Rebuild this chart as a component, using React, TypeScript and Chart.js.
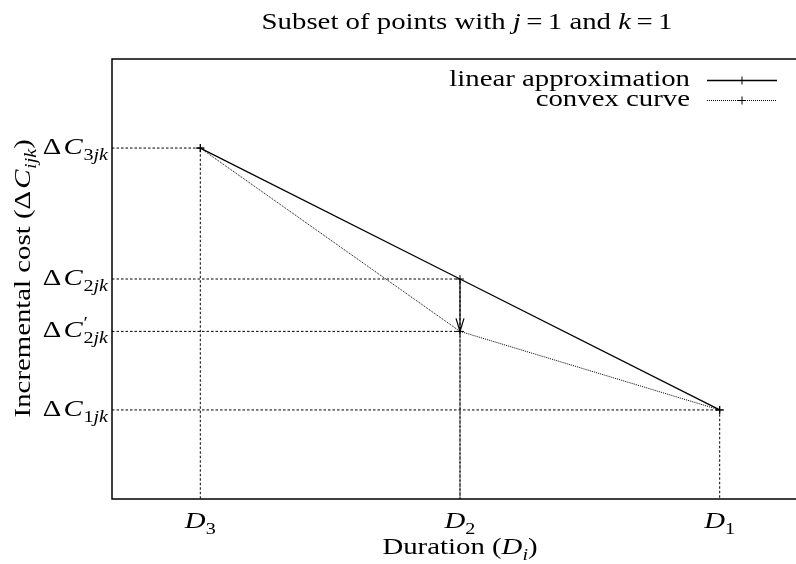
import React, { useEffect, useRef } from "react";
import { Chart, registerables } from "chart.js";

Chart.register(...registerables);

// Durations on the x axis (D3 left, D1 right) and their tick labels
const durations = [1, 2, 3];
const durationLabels = ["3", "2", "1"]; // subscripts of D for values 1, 2, 3

// Incremental costs
const cost3 = 3;
const cost2 = 2;
const cost2Prime = 1.6;
const cost1 = 1;

// Series values (same order as durations)
const linearCosts = [cost3, cost2, cost1];
const convexCosts = [cost3, cost2Prime, cost1];

// Y tick labels: value, subscript, primed
const costTicks: { v: number; sub: string; prime: boolean }[] = [
  { v: cost3, sub: "3jk", prime: false },
  { v: cost2, sub: "2jk", prime: false },
  { v: cost2Prime, sub: "2jk", prime: true },
  { v: cost1, sub: "1jk", prime: false },
];

const X_MIN = 0.66;
const X_MAX = 3.34;
const Y_MIN = 0.32;
const Y_MAX = 3.68;

const FONT = '"Liberation Serif", "DejaVu Serif", serif';
const SIZE = 24;
const SX = 1.2; // horizontal widening of the serif glyphs

type Seg = { t: string; it?: boolean; sub?: boolean; sup?: boolean; hold?: boolean; pad?: number };

function segFont(s: Seg, size: number) {
  const sz = Math.round((s.sub || s.sup ? size * 0.7 : size) * 10) / 10;
  return `${s.it ? "italic " : ""}${sz}px ${FONT}`;
}

function layoutRich(ctx: CanvasRenderingContext2D, segs: Seg[], size: number) {
  let x = 0;
  let held = 0;
  const out: { s: Seg; x: number }[] = [];
  for (const s of segs) {
    ctx.font = segFont(s, size);
    const w = ctx.measureText(s.t).width * SX + (s.pad || 0) * size;
    out.push({ s, x: x + ((s.pad || 0) * size) / 2 });
    if (s.hold) {
      held = w;
    } else {
      x += Math.max(w, held);
      held = 0;
    }
  }
  return { items: out, width: x };
}

function drawRich(
  ctx: CanvasRenderingContext2D,
  segs: Seg[],
  x: number,
  baseline: number,
  size: number,
  align: "left" | "center" | "right"
) {
  const { items, width } = layoutRich(ctx, segs, size);
  const x0 = align === "left" ? x : align === "center" ? x - width / 2 : x - width;
  ctx.textAlign = "left";
  ctx.textBaseline = "alphabetic";
  ctx.fillStyle = "#000";
  for (const { s, x: dx } of items) {
    ctx.font = segFont(s, size);
    const dy = s.sub ? size * 0.24 : s.sup ? -size * 0.38 : 0;
    ctx.save();
    ctx.translate(x0 + dx, baseline + dy);
    ctx.scale(SX, 1);
    ctx.fillText(s.t, 0, 0);
    ctx.restore();
  }
}

function subSegs(sub: string): Seg[] {
  // digits upright, letters italic
  const segs: Seg[] = [];
  for (const ch of sub) {
    segs.push({ t: ch, sub: true, it: /[a-z]/.test(ch) });
  }
  return segs;
}

const decorations = {
  id: "decorations",
  afterDatasetsDraw(chart: Chart) {
    const ctx = chart.ctx;
    const xs = chart.scales.x;
    const ys = chart.scales.y;
    const area = chart.chartArea;
    ctx.save();

    // Frame
    ctx.strokeStyle = "#000";
    ctx.lineWidth = 1.5;
    ctx.setLineDash([]);
    ctx.strokeRect(area.left, area.top, area.right - area.left, area.bottom - area.top);

    // Arrowhead on the adjustment from the linear to the convex cost
    const tipX = xs.getPixelForValue(durations[1]);
    const tipY = ys.getPixelForValue(cost2Prime);
    ctx.lineWidth = 1.2;
    ctx.beginPath();
    ctx.moveTo(tipX - 4, tipY - 13);
    ctx.lineTo(tipX, tipY);
    ctx.lineTo(tipX + 4, tipY - 13);
    ctx.stroke();

    // Title
    drawRich(
      ctx,
      [
        { t: "Subset of points with " },
        { t: "j", it: true },
        { t: "=", pad: 0.45 },
        { t: "1 and " },
        { t: "k", it: true },
        { t: "=", pad: 0.45 },
        { t: "1" },
      ],
      467,
      29,
      SIZE,
      "center"
    );

    // Y tick labels
    for (const tk of costTicks) {
      const py = ys.getPixelForValue(tk.v);
      const segs: Seg[] = [{ t: "Δ", pad: 0.12 }, { t: "C", it: true, pad: 0.06 }];
      if (tk.prime) segs.push({ t: "′", sup: true, hold: true });
      segs.push(...subSegs(tk.sub));
      drawRich(ctx, segs, 108, py + 6, SIZE, "right");
    }

    // X tick labels
    durations.forEach((d, i) => {
      const px = xs.getPixelForValue(d);
      drawRich(ctx, [{ t: "D", it: true }, ...subSegs(durationLabels[i])], px, 528, SIZE, "center");
    });

    // X axis title
    drawRich(
      ctx,
      [{ t: "Duration (" }, { t: "D", it: true }, { t: "i", it: true, sub: true }, { t: ")" }],
      (area.left + area.right) / 2,
      554,
      SIZE,
      "center"
    );

    // Y axis title (rotated)
    ctx.save();
    ctx.translate(30, (area.top + area.bottom) / 2);
    ctx.rotate(-Math.PI / 2);
    drawRich(
      ctx,
      [
        { t: "Incremental cost (Δ", pad: 0.12 },
        { t: "C", it: true, pad: 0.06 },
        { t: "i", it: true, sub: true },
        { t: "j", it: true, sub: true },
        { t: "k", it: true, sub: true },
        { t: ")" },
      ],
      0,
      0,
      SIZE,
      "center"
    );
    ctx.restore();

    // Legend
    const rows = [
      { label: "linear approximation", dash: [] as number[], width: 1.3, y: 80 },
      { label: "convex curve", dash: [1, 1], width: 1, y: 100 },
    ];
    for (const r of rows) {
      drawRich(ctx, [{ t: r.label }], 690, r.y + 6, SIZE, "right");
      ctx.strokeStyle = "#000";
      ctx.lineWidth = r.width;
      ctx.setLineDash(r.dash);
      ctx.beginPath();
      ctx.moveTo(707, r.y + 0.5);
      ctx.lineTo(777, r.y + 0.5);
      ctx.stroke();
      ctx.setLineDash([]);
      ctx.lineWidth = 1;
      ctx.beginPath();
      ctx.moveTo(738, r.y + 0.5);
      ctx.lineTo(746, r.y + 0.5);
      ctx.moveTo(742, r.y - 3.5);
      ctx.lineTo(742, r.y + 4.5);
      ctx.stroke();
    }

    ctx.restore();
  },
};

function dropLine(x: number, y: number) {
  return {
    data: [
      { x: X_MIN, y },
      { x, y },
      { x, y: Y_MIN },
    ],
    showLine: true,
    borderColor: "#000",
    borderWidth: 1,
    borderDash: [2.5, 2],
    pointRadius: 0,
    order: 5,
  };
}

export default function App() {
  const ref = useRef<HTMLCanvasElement | null>(null);

  useEffect(() => {
    if (!ref.current) return;
    const pointStyle = {
      pointStyle: "cross" as const,
      pointRadius: 4,
      pointBorderWidth: 1,
      pointBorderColor: "#000",
      pointBackgroundColor: "#000",
    };
    const chart = new Chart(ref.current, {
      type: "scatter",
      data: {
        datasets: [
          {
            label: "linear approximation",
            data: durations.map((d, i) => ({ x: d, y: linearCosts[i] })),
            showLine: true,
            borderColor: "#000",
            borderWidth: 1.3,
            order: 1,
            ...pointStyle,
          },
          {
            label: "convex curve",
            data: durations.map((d, i) => ({ x: d, y: convexCosts[i] })),
            showLine: true,
            borderColor: "#000",
            borderWidth: 1,
            borderDash: [1, 1],
            order: 2,
            ...pointStyle,
          },
          {
            label: "adjustment",
            data: [
              { x: durations[1], y: cost2 },
              { x: durations[1], y: cost2Prime },
            ],
            showLine: true,
            borderColor: "#000",
            borderWidth: 1.2,
            pointRadius: 0,
            order: 3,
          },
          dropLine(durations[0], cost3),
          dropLine(durations[1], cost2),
          dropLine(durations[1], cost2Prime),
          dropLine(durations[2], cost1),
        ],
      },
      options: {
        responsive: false,
        animation: false,
        layout: { padding: { left: 112, top: 59, right: 22, bottom: 65 } },
        scales: {
          x: { type: "linear", min: X_MIN, max: X_MAX, display: false },
          y: { type: "linear", min: Y_MIN, max: Y_MAX, display: false },
        },
        plugins: {
          legend: { display: false },
          title: { display: false },
          tooltip: { enabled: false },
        },
      },
      plugins: [decorations],
    });
    return () => chart.destroy();
  }, []);

  return (
    <div
      style={{
        position: "fixed",
        left: 0,
        top: 0,
        width: 796,
        height: 564,
        overflow: "hidden",
        background: "#fff",
      }}
    >
      <canvas ref={ref} width={830} height={564} style={{ width: 830, height: 564, display: "block" }} />
    </div>
  );
}
